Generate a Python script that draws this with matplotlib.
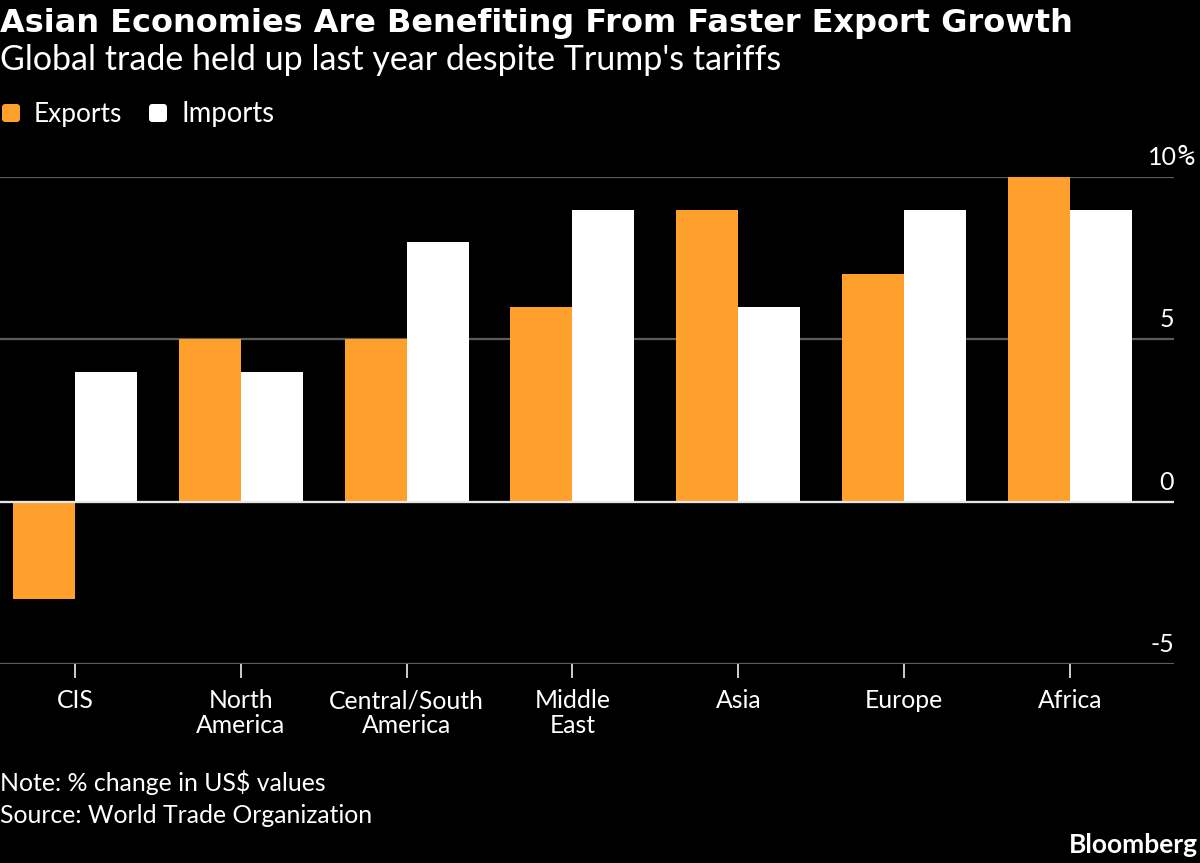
import numpy as np
import matplotlib
matplotlib.use('Agg')
import matplotlib.pyplot as plt
from matplotlib.patches import FancyBboxPatch
from matplotlib.transforms import IdentityTransform

categories = ['CIS', 'North\nAmerica', 'Central/South\nAmerica', 'Middle\nEast', 'Asia', 'Europe', 'Africa']
exports = [-3, 5, 5, 6, 9, 7, 10]
imports = [4, 4, 8, 9, 6, 9, 9]
y_ticks = [-5, 0, 5, 10]
y_labels = ['-5', '0', '5', '10']

ORANGE = '#ffa02c'
GRID = '#5c5c5c'
W, H = 1200, 863
SPACING = 165.83
BAR = 62.0 / SPACING

plt.rcParams['font.family'] = ['Lato', 'DejaVu Sans']
fig = plt.figure(figsize=(12, 8.63), dpi=100, facecolor='black')
ax = fig.add_axes([0, 1 - 664 / H, 1174 / W, (664 - 177.1) / H], facecolor='black')

x = np.arange(len(categories))
ax.bar(x - BAR / 2, exports, BAR, color=ORANGE, zorder=3)
ax.bar(x + BAR / 2, imports, BAR, color='white', zorder=3)

ax.set_xlim(-75 / SPACING, (1174 - 75) / SPACING)
ax.set_ylim(-5, 10)
for s in ax.spines.values():
    s.set_visible(False)
ax.set_yticks(y_ticks)
ax.set_yticklabels([])
ax.tick_params(axis='y', length=0)
ax.grid(axis='y', color=GRID, linewidth=1.6, zorder=1)
ax.axhline(0, color='#e6e6e6', linewidth=1.6, zorder=4)

ax.set_xticks(x)
ax.set_xticklabels(categories, fontsize=17.8, color='white', linespacing=1.08)
ax.tick_params(axis='x', length=10, width=1.3, color='#dddddd', pad=8)

# y labels sit above the gridlines, right aligned at the end of the axis
for t, lab in zip(y_ticks, y_labels):
    right = 3 if t == 10 else 0
    ax.annotate(lab, (1, t), xycoords=('axes fraction', 'data'), xytext=(right, 12),
                textcoords='offset pixels', ha='right', va='baseline', fontsize=18, color='white')
ax.annotate('%', (1, 10), xycoords=('axes fraction', 'data'), xytext=(4, 12),
            textcoords='offset pixels', ha='left', va='baseline', fontsize=20,
            color='white', family=['DejaVu Sans Mono'])


def px_text(px, py, s, **kw):
    fig.text(px / W, 1 - py / H, s, color='white', va='baseline', **kw)


px_text(0, 32, 'Asian Economies Are Benefiting From Faster Export Growth',
        fontsize=23, fontweight='bold', family=['DejaVu Sans'])
px_text(0, 70, "Global trade held up last year despite Trump's tariffs", fontsize=24.5)

for px, colr, lab, tx, fs in [(2, ORANGE, 'Exports', 34, 18.9), (149, 'white', 'Imports', 181, 19.8)]:
    fig.add_artist(FancyBboxPatch((px, H - 122), 18, 18, transform=IdentityTransform(),
                                  boxstyle='round,pad=0,rounding_size=3.5', fc=colr, ec='none'))
    px_text(tx, 122, lab, fontsize=fs)

px_text(0, 791, 'Note: % change in US$ values', fontsize=17.9)
px_text(0, 823, 'Source: World Trade Organization', fontsize=17.8)
fig.text(1198 / W, 1 - 853 / H, 'Bloomberg', color='white', fontsize=19, fontweight='bold',
         ha='right', va='baseline')

fig.savefig('out.png', dpi=100, facecolor='black')
